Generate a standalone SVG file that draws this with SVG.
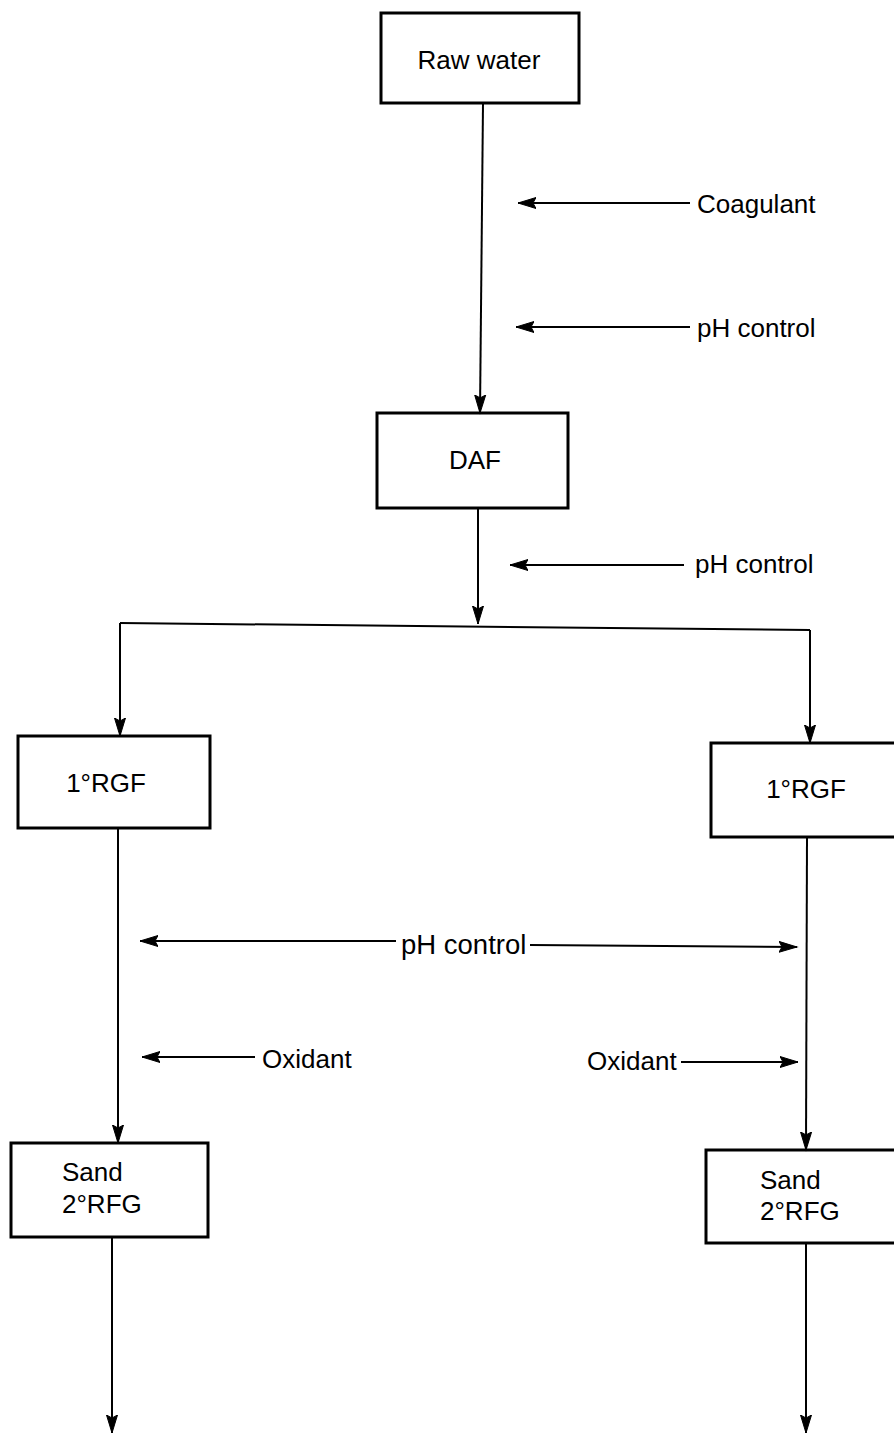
<svg xmlns="http://www.w3.org/2000/svg" width="894" height="1436" viewBox="0 0 894 1436">
<style>
.box{fill:#fff;stroke:#000;stroke-width:3}
.ln{fill:none;stroke:#000;stroke-width:2}
.ar{fill:none;stroke:#000;stroke-width:2;marker-end:url(#ah)}
text{font-family:"Liberation Sans",Arial,sans-serif;font-size:26px;fill:#000}
</style>
<defs>
<marker id="ah" markerUnits="userSpaceOnUse" markerWidth="20" markerHeight="14" refX="18" refY="7" orient="auto">
<path d="M0,1.5 L18,7 L0,12.5 L3,7 z" style="fill:#000;stroke:#000;stroke-width:1"/>
</marker>
</defs>
<rect width="894" height="1436" fill="#fff"/>
<g id="raw-water">
<rect class="box" x="381" y="13" width="198" height="90"/>
<text x="479" y="69" text-anchor="middle">Raw water</text>
</g>
<g id="daf">
<rect class="box" x="377" y="413" width="191" height="95"/>
<text x="475" y="469" text-anchor="middle">DAF</text>
</g>
<g id="rgf-left">
<rect class="box" x="18" y="736" width="192" height="92"/>
<text x="106" y="792" text-anchor="middle">1°RGF</text>
</g>
<g id="rgf-right">
<rect class="box" x="711" y="743" width="195" height="94"/>
<text x="806" y="798" text-anchor="middle">1°RGF</text>
</g>
<g id="sand-left">
<rect class="box" x="11" y="1143" width="197" height="94"/>
<text x="62" y="1181">Sand</text>
<text x="62" y="1213">2°RFG</text>
</g>
<g id="sand-right">
<rect class="box" x="706" y="1150" width="200" height="93"/>
<text x="760" y="1189">Sand</text>
<text x="760" y="1220">2°RFG</text>
</g>
<g id="labels">
<text x="697" y="213">Coagulant</text>
<text x="697" y="337">pH control</text>
<text x="695" y="573">pH control</text>
<text x="401" y="954" style="font-size:27.5px">pH control</text>
<text x="262" y="1068">Oxidant</text>
<text x="587" y="1070">Oxidant</text>
</g>
<g id="connectors">
<path class="ar" d="M483,103 L480,413"/>
<path class="ar" d="M478,508 L478,624"/>
<path class="ln" d="M120,623 L810,630"/>
<path class="ar" d="M120,623 L120,736"/>
<path class="ar" d="M810,630 L810,743"/>
<path class="ar" d="M118,828 L118,1143"/>
<path class="ar" d="M807,837 L806,1150"/>
<path class="ar" d="M112,1237 L112,1433"/>
<path class="ar" d="M806,1243 L806,1433"/>
<path class="ar" d="M690,203 L518,203"/>
<path class="ar" d="M690,327 L516,327"/>
<path class="ar" d="M684,565 L510,565"/>
<path class="ar" d="M396,941 L140,941"/>
<path class="ar" d="M530,945 L797,947"/>
<path class="ar" d="M255,1057 L142,1057"/>
<path class="ar" d="M681,1062 L798,1062"/>
</g>
</svg>
